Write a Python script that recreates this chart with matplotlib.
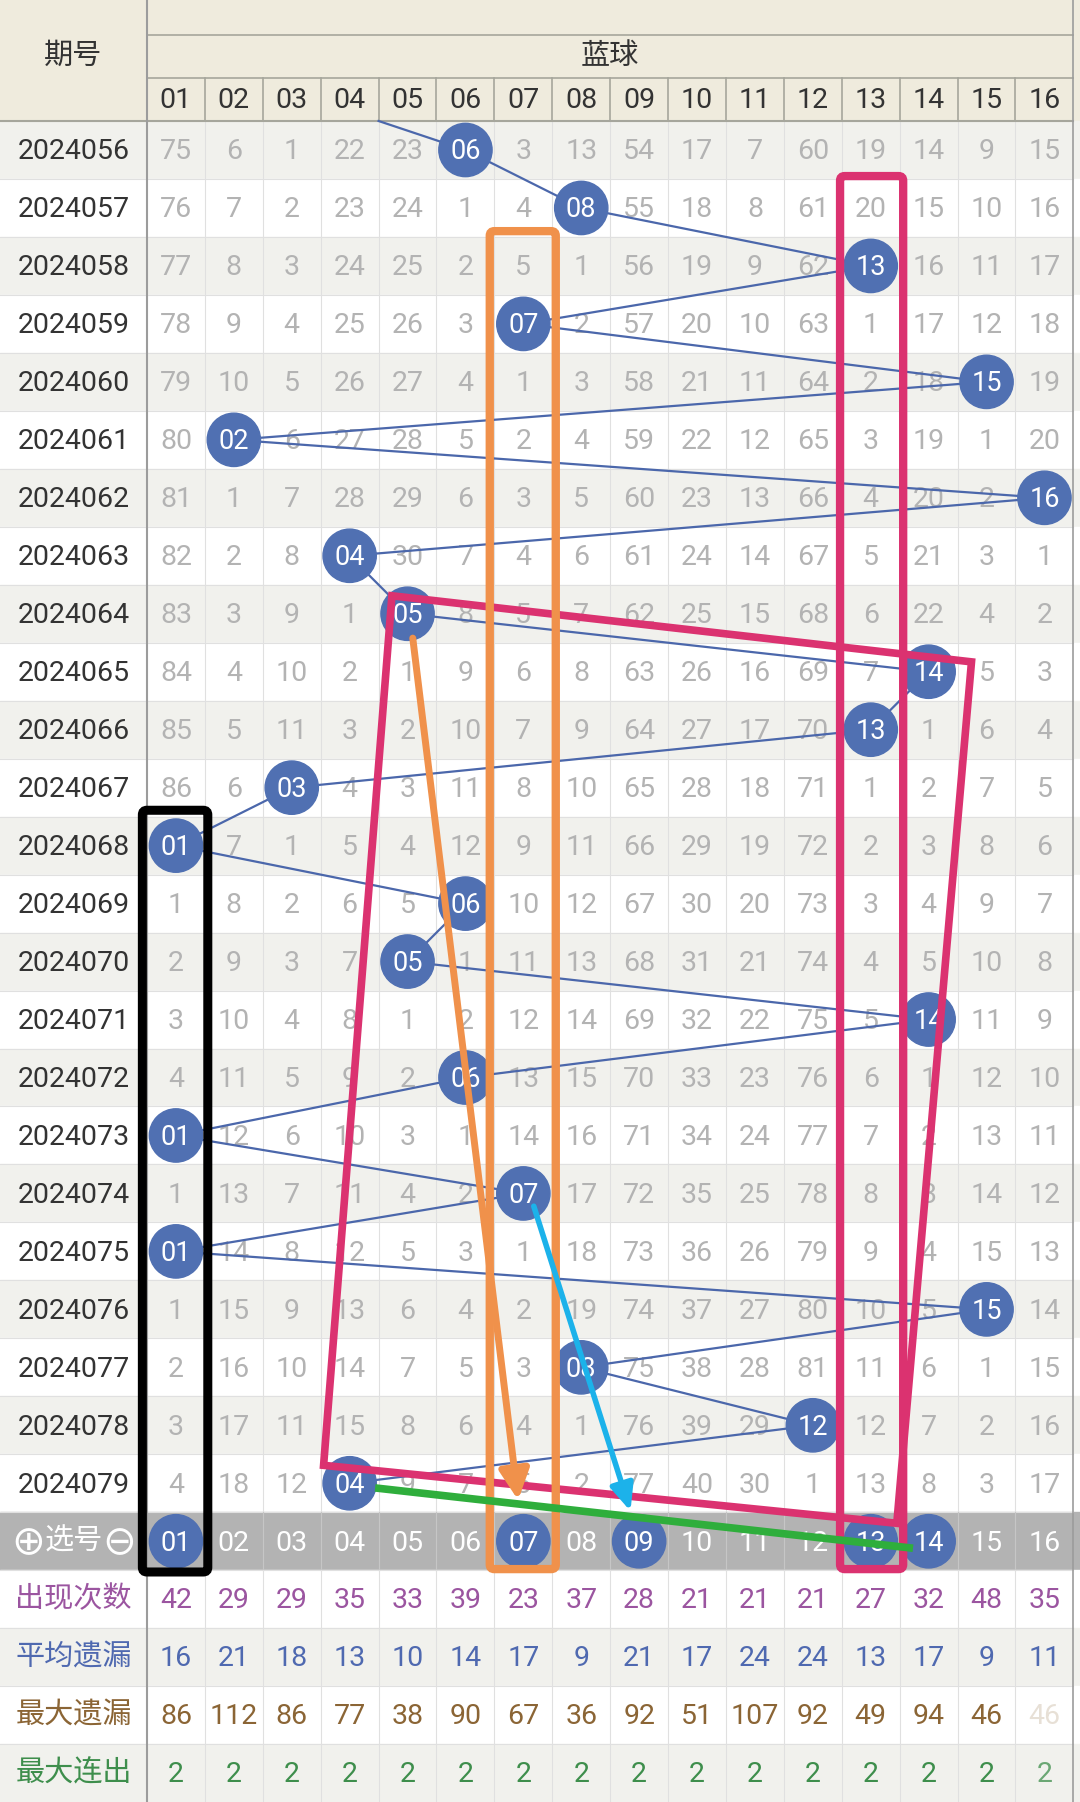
import matplotlib
matplotlib.use('Agg')
import matplotlib.pyplot as plt
from matplotlib.patches import Rectangle, Circle, FancyBboxPatch, Polygon, FancyArrowPatch

plt.rcParams['font.family'] = ['Roboto', 'Noto Sans CJK SC', 'DejaVu Sans']

###############################
# data
###############################
periods = ['2024056', '2024057', '2024058', '2024059', '2024060', '2024061',
           '2024062', '2024063', '2024064', '2024065', '2024066', '2024067',
           '2024068', '2024069', '2024070', '2024071', '2024072', '2024073',
           '2024074', '2024075', '2024076', '2024077', '2024078', '2024079']
ball_labels = ['01', '02', '03', '04', '05', '06', '07', '08',
               '09', '10', '11', '12', '13', '14', '15', '16']

# blue ball drawn in each period (column number)
hits = [6, 8, 13, 7, 15, 2, 16, 4, 5, 14, 13, 3,
        1, 6, 5, 14, 6, 1, 7, 1, 15, 8, 12, 4]
prev_hit = 3   # draw of 2024055, only its line enters the chart

# omission counts per period, 0 where the ball was drawn
omit = [
    [75, 6, 1, 22, 23, 0, 3, 13, 54, 17, 7, 60, 19, 14, 9, 15],
    [76, 7, 2, 23, 24, 1, 4, 0, 55, 18, 8, 61, 20, 15, 10, 16],
    [77, 8, 3, 24, 25, 2, 5, 1, 56, 19, 9, 62, 0, 16, 11, 17],
    [78, 9, 4, 25, 26, 3, 0, 2, 57, 20, 10, 63, 1, 17, 12, 18],
    [79, 10, 5, 26, 27, 4, 1, 3, 58, 21, 11, 64, 2, 18, 0, 19],
    [80, 0, 6, 27, 28, 5, 2, 4, 59, 22, 12, 65, 3, 19, 1, 20],
    [81, 1, 7, 28, 29, 6, 3, 5, 60, 23, 13, 66, 4, 20, 2, 0],
    [82, 2, 8, 0, 30, 7, 4, 6, 61, 24, 14, 67, 5, 21, 3, 1],
    [83, 3, 9, 1, 0, 8, 5, 7, 62, 25, 15, 68, 6, 22, 4, 2],
    [84, 4, 10, 2, 1, 9, 6, 8, 63, 26, 16, 69, 7, 0, 5, 3],
    [85, 5, 11, 3, 2, 10, 7, 9, 64, 27, 17, 70, 0, 1, 6, 4],
    [86, 6, 0, 4, 3, 11, 8, 10, 65, 28, 18, 71, 1, 2, 7, 5],
    [0, 7, 1, 5, 4, 12, 9, 11, 66, 29, 19, 72, 2, 3, 8, 6],
    [1, 8, 2, 6, 5, 0, 10, 12, 67, 30, 20, 73, 3, 4, 9, 7],
    [2, 9, 3, 7, 0, 1, 11, 13, 68, 31, 21, 74, 4, 5, 10, 8],
    [3, 10, 4, 8, 1, 2, 12, 14, 69, 32, 22, 75, 5, 0, 11, 9],
    [4, 11, 5, 9, 2, 0, 13, 15, 70, 33, 23, 76, 6, 1, 12, 10],
    [0, 12, 6, 10, 3, 1, 14, 16, 71, 34, 24, 77, 7, 2, 13, 11],
    [1, 13, 7, 11, 4, 2, 0, 17, 72, 35, 25, 78, 8, 3, 14, 12],
    [0, 14, 8, 12, 5, 3, 1, 18, 73, 36, 26, 79, 9, 4, 15, 13],
    [1, 15, 9, 13, 6, 4, 2, 19, 74, 37, 27, 80, 10, 5, 0, 14],
    [2, 16, 10, 14, 7, 5, 3, 0, 75, 38, 28, 81, 11, 6, 1, 15],
    [3, 17, 11, 15, 8, 6, 4, 1, 76, 39, 29, 0, 12, 7, 2, 16],
    [4, 18, 12, 0, 9, 7, 5, 2, 77, 40, 30, 1, 13, 8, 3, 17],
]

picked = [1, 7, 9, 13, 14]

stat_names = ['出现次数', '平均遗漏', '最大遗漏', '最大连出']
appear_cnt = [42, 29, 29, 35, 33, 39, 23, 37, 28, 21, 21, 21, 27, 32, 48, 35]
avg_omit = [16, 21, 18, 13, 10, 14, 17, 9, 21, 17, 24, 24, 13, 17, 9, 11]
max_omit = [86, 112, 86, 77, 38, 90, 67, 36, 92, 51, 107, 92, 49, 94, 46, 46]
max_run = [2, 2, 2, 2, 2, 2, 2, 2, 2, 2, 2, 2, 2, 2, 2, 2]

###############################
# layout / colours
###############################
W, H = 1080, 1802
CW, RH = 57.9, 57.97          # cell size in px
LEFT, TOP = 147, 121          # left column width, header height

def ypx(p):
    return -0.5 + (p - TOP) / RH

X0 = 0.5 - LEFT / CW
X1 = 0.5 + (W - LEFT) / CW
Y0 = ypx(0)
Y1 = ypx(H)
XC = (X0 + 0.5) / 2           # centre of the left column

def xpx(p):
    return X0 + p / CW

beige = '#efebdd'
row_grey = '#f1f1ed'
sel_grey = '#b3b3b3'
num_grey = '#b3b3b3'
ball_blue = '#5070b2'
line_blue = '#4b67ab'
stat_cols = ['#9b55a0', '#4f69b0', '#8b6535', '#3e8e4c']
magenta = '#db3270'
orange = '#f0914b'
cyan = '#1cb2ea'
green = '#2fae3c'

CJK_SIZE = 21

fig = plt.figure(figsize=(W / 100, H / 100), dpi=100)
ax = fig.add_axes([0, 0, 1, 1])
ax.set_xlim(X0, X1)
ax.set_ylim(Y1, Y0)
ax.axis('off')

nrows = len(periods)
sel_row = nrows
stat_rows = [nrows + 1 + k for k in range(len(stat_names))]

###############################
# backgrounds + grid
###############################
ax.add_patch(Rectangle((X0, Y0), X1 - X0, -0.5 - Y0, color=beige, zorder=0))
for r in range(nrows):
    fc = row_grey if r % 2 == 0 else 'white'
    ax.add_patch(Rectangle((X0, r - 0.5), X1 - X0, 1, color=fc, zorder=0))
ax.add_patch(Rectangle((X0, sel_row - 0.5), X1 - X0, 1, color=sel_grey, zorder=0))
for k, r in enumerate(stat_rows):
    fc = 'white' if k % 2 == 0 else row_grey
    ax.add_patch(Rectangle((X0, r - 0.5), X1 - X0, 1, color=fc, zorder=0))

last = stat_rows[-1] + 0.5
for r in range(nrows + len(stat_rows) + 1):
    ax.plot([X0, 16.5], [r - 0.5, r - 0.5], color='#e0e0e0', lw=0.8, zorder=1)
for c in range(1, 16):
    ax.plot([c + 0.5, c + 0.5], [-0.5, sel_row - 0.5], color='#e0e0e0', lw=0.8, zorder=1)
    ax.plot([c + 0.5, c + 0.5], [sel_row - 0.5, sel_row + 0.5], color='#c6c6c6', lw=0.8, zorder=1)
    ax.plot([c + 0.5, c + 0.5], [sel_row + 0.5, last], color='#e0e0e0', lw=0.8, zorder=1)
    ax.plot([c + 0.5, c + 0.5], [ypx(78), -0.5], color='#a6a69c', lw=1.2, zorder=1)

hdr = '#a6a69c'
ax.plot([0.5, 16.5], [ypx(35), ypx(35)], color=hdr, lw=1.2, zorder=1)
ax.plot([0.5, 16.5], [ypx(78), ypx(78)], color=hdr, lw=1.2, zorder=1)
ax.plot([X0, 16.5], [-0.5, -0.5], color=hdr, lw=1.5, zorder=1)
ax.plot([0.5, 0.5], [Y0, last], color='#9c9c9c', lw=1.5, zorder=1)
ax.plot([16.5, 16.5], [Y0, last], color='#9c9c9c', lw=1.2, zorder=1)

###############################
# text
###############################
ax.text(XC, ypx(56), '期号', ha='center', va='center', fontsize=CJK_SIZE,
        color='#333333', family='Noto Sans CJK SC')
ax.text(8.5, ypx(56), '蓝球', ha='center', va='center', fontsize=CJK_SIZE,
        color='#333333', family='Noto Sans CJK SC')
for c, lab in enumerate(ball_labels, start=1):
    ax.text(c, ypx(101), lab, ha='center', va='center', fontsize=20.5, color='#333333')

for r, per in enumerate(periods):
    ax.text(XC, r + 0.03, per, ha='center', va='center', fontsize=20.5, color='#333333')
    for c in range(1, 17):
        if hits[r] != c:
            ax.text(c, r + 0.03, str(omit[r][c - 1]), ha='center', va='center',
                    fontsize=20.5, color=num_grey, zorder=2)

# ⊕选号⊖ with big circled signs
ax.text(XC, sel_row, '选号', ha='center', va='center', fontsize=CJK_SIZE,
        color='white', family='Noto Sans CJK SC')
ax.text(xpx(28), sel_row + 0.03, '⊕', ha='center', va='center', fontsize=29,
        color='white', family='DejaVu Sans')
ax.text(xpx(119), sel_row + 0.03, '⊖', ha='center', va='center', fontsize=29,
        color='white', family='DejaVu Sans')
for c, lab in enumerate(ball_labels, start=1):
    if c not in picked:
        ax.text(c, sel_row + 0.03, lab, ha='center', va='center', fontsize=20.5,
                color='white', zorder=2)

stat_vals = [appear_cnt, avg_omit, max_omit, max_run]
for k, r in enumerate(stat_rows):
    ax.text(XC, r, stat_names[k], ha='center', va='center', fontsize=CJK_SIZE,
            color=stat_cols[k], family='Noto Sans CJK SC')
    for c, v in enumerate(stat_vals[k], start=1):
        a = 1.0
        if c == 16 and k == 2:
            a = 0.2
        elif c == 16 and k == 3:
            a = 0.75
        ax.text(c, r + 0.03, str(v), ha='center', va='center', fontsize=20.5,
                color=stat_cols[k], alpha=a, zorder=2)

###############################
# trend line + balls
###############################
xs = [(prev_hit + hits[0]) / 2] + hits
ys = [-0.5] + list(range(nrows))
ax.plot(xs, ys, color=line_blue, lw=1.6, zorder=3)

R = 0.46
for r, c in enumerate(hits):
    ax.add_patch(Circle((c, r), R, color=ball_blue, zorder=4))
    ax.text(c, r + 0.03, ball_labels[c - 1], ha='center', va='center',
            fontsize=19.5, color='white', zorder=5)
for c in picked:
    ax.add_patch(Circle((c, sel_row), R, color=ball_blue, zorder=4))
    ax.text(c, sel_row + 0.03, ball_labels[c - 1], ha='center', va='center',
            fontsize=19.5, color='white', zorder=5)

###############################
# hand-drawn marks
###############################
def box(x0, x1, y0, y1, col, lw, z):
    ax.add_patch(FancyBboxPatch((x0, y0), x1 - x0, y1 - y0,
                                boxstyle='round,pad=0,rounding_size=0.08',
                                fill=False, ec=col, lw=lw, zorder=z))

box(0.42, 1.55, 11.39, 24.53, 'black', 6.5, 6)

quad = [(4.73, 7.69), (14.74, 8.83), (13.45, 23.69), (3.55, 22.69)]
ax.add_patch(Polygon(quad, closed=True, fill=False, ec=magenta, lw=5.5,
                     joinstyle='miter', zorder=6))

box(6.42, 7.56, 1.40, 24.48, orange, 6, 7)
box(12.47, 13.56, 0.45, 24.48, magenta, 6, 7)

ax.add_patch(FancyArrowPatch((5.09, 8.42), (6.91, 23.29),
                             arrowstyle='-|>,head_length=0.9,head_width=0.45',
                             mutation_scale=20, color=orange, lw=5,
                             shrinkA=0, shrinkB=0, zorder=8))
ax.add_patch(FancyArrowPatch((7.18, 18.22), (8.85, 23.48),
                             arrowstyle='-|>,head_length=0.8,head_width=0.35',
                             mutation_scale=20, color=cyan, lw=4,
                             shrinkA=0, shrinkB=0, zorder=8))
ax.plot([4.44, 13.73], [23.08, 24.12], color=green, lw=5.5,
        solid_capstyle='butt', zorder=9)

plt.savefig('out.png', dpi=100)
